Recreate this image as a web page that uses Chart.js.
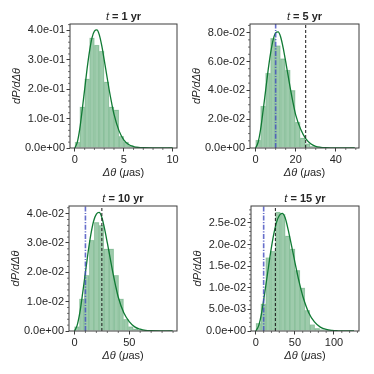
<!DOCTYPE html>
<html>
<head>
<meta charset="utf-8">
<script src="https://cdn.jsdelivr.net/npm/chart.js@4.4.0/dist/chart.umd.min.js"></script>
<style>
  html, body { margin: 0; padding: 0; background: #fff; }
  #wrap { position: relative; width: 374px; height: 374px; overflow: hidden; }
  canvas { position: absolute; }
</style>
</head>
<body>
<div id="wrap">
  <canvas id="p1" width="187" height="187" style="left:0;top:0"></canvas>
  <canvas id="p2" width="187" height="187" style="left:187px;top:0"></canvas>
  <canvas id="p3" width="187" height="187" style="left:0;top:187px"></canvas>
  <canvas id="p4" width="187" height="187" style="left:187px;top:187px"></canvas>
</div>
<script>
// --- data ---
const years = [1, 5, 10, 15];

// histogram bins start at 0, 20 bins each
const binWidth1 = 0.5;
const binWidth2 = 2.475;
const binWidth3 = 4.48;
const binWidth4 = 6.28;

const hist1 = [0.02, 0.14, 0.235, 0.375, 0.35, 0.33, 0.225, 0.14, 0.13, 0.04,
               0.02, 0.008, 0.004, 0.002, 0.001, 0, 0, 0, 0, 0.0005];
const hist2 = [0.0055, 0.029, 0.052, 0.076, 0.071, 0.062, 0.054, 0.040, 0.018, 0.007,
               0.003, 0.0012, 0.0005, 0.0002, 0.0001, 0, 0, 0, 0, 0.0001];
const hist3 = [0.0015, 0.011, 0.019, 0.031, 0.037, 0.036, 0.028, 0.028, 0.019, 0.011,
               0.004, 0.0015, 0.0007, 0.0003, 0.0002, 0.0001, 0, 0, 0, 0.0001];
const hist4 = [0.0018, 0.0063, 0.017, 0.0185, 0.0275, 0.027, 0.022, 0.019, 0.014, 0.010,
               0.0048, 0.0015, 0.0006, 0.0003, 0.0001, 0.0001, 0, 0, 0, 0.0001];

// fitted density curves
const curveX1 = [0, 0.25, 0.5, 0.75, 1, 1.25, 1.5, 1.75, 2, 2.25, 2.5, 2.75, 3, 3.25, 3.5, 3.75, 4, 4.5, 5, 5.5, 6, 6.5, 7, 8, 9, 10];
const curveY1 = [0, 0.02, 0.065, 0.13, 0.2, 0.27, 0.33, 0.375, 0.398, 0.402, 0.385, 0.348, 0.3, 0.25, 0.2, 0.155, 0.115, 0.06, 0.028, 0.012, 0.005, 0.002, 0.0008, 0.0001, 0, 0];
const curveX2 = [0, 1.25, 2.5, 3.75, 5, 6.25, 7.5, 8.75, 10, 11.25, 12.5, 13.75, 15, 16.25, 17.5, 18.75, 20, 22.5, 25, 27.5, 30, 32.5, 35, 40, 45, 49.5];
const curveY2 = [0, 0.004, 0.013, 0.026, 0.04, 0.054, 0.066, 0.075, 0.0798, 0.0805, 0.077, 0.0695, 0.06, 0.05, 0.04, 0.031, 0.023, 0.013, 0.0065, 0.003, 0.0012, 0.0005, 0.0002, 0.00002, 0, 0];
const curveX3 = [0, 2.5, 5, 7.5, 10, 12.5, 15, 17.5, 20, 22.5, 25, 27.5, 30, 32.5, 35, 37.5, 40, 45, 50, 55, 60, 65, 70, 80, 89.6];
const curveY3 = [0, 0.002, 0.0065, 0.013, 0.02, 0.027, 0.033, 0.0375, 0.0398, 0.0404, 0.0387, 0.0348, 0.03, 0.025, 0.02, 0.0155, 0.0115, 0.0062, 0.0032, 0.0014, 0.0006, 0.0002, 0.00008, 0.00001, 0];
const curveX4 = [0, 3.75, 7.5, 11.25, 15, 18.75, 22.5, 26.25, 30, 33.75, 37.5, 41.25, 45, 48.75, 52.5, 56.25, 60, 67.5, 75, 82.5, 90, 97.5, 105, 115, 125.6];
const curveY4 = [0, 0.0013, 0.0043, 0.0087, 0.0133, 0.018, 0.022, 0.025, 0.0267, 0.0272, 0.0262, 0.0235, 0.0203, 0.017, 0.0137, 0.0107, 0.0081, 0.0043, 0.0021, 0.0009, 0.00035, 0.00013, 0.00005, 0.00001, 0];

// reference lines (muas)
const blueLineX = 10;
const blackLineX = 25;

// axis ticks
const xTicks1 = [0, 5, 10];
const xTicks2 = [0, 20, 40];
const xTicks3 = [0, 50];
const xTicks4 = [0, 50, 100];
const yTicks1 = [0, 0.1, 0.2, 0.3, 0.4];
const yTicks2 = [0, 0.02, 0.04, 0.06, 0.08];
const yTicks3 = [0, 0.01, 0.02, 0.03, 0.04];
const yTicks4 = [0, 0.005, 0.01, 0.015, 0.02, 0.025];

// --- style ---
const FONT = "'Liberation Sans', Arial, sans-serif";
const TEXT_COLOR = '#262626';
const AXIS_COLOR = '#3c3c3c';
const HIST_FILL = 'rgba(40,140,70,0.45)';
const HIST_EDGE = 'rgba(40,140,70,0.25)';
const CURVE_COLOR = 'rgb(16,122,52)';
const BLUE_COLOR = 'rgba(65,75,190,0.8)';
const BLACK_COLOR = '#1a1a1a';

function fmtSci(v) {
  const parts = Number(v).toExponential(1).split('e');
  let exp = parseInt(parts[1], 10);
  const sign = exp < 0 ? '-' : '+';
  exp = Math.abs(exp);
  return parts[0] + 'e' + sign + (exp < 10 ? '0' : '') + exp;
}

function drawRuns(ctx, runs, cx, cy) {
  let total = 0;
  runs.forEach(r => { ctx.font = r.font; r.w = ctx.measureText(r.text).width; total += r.w; });
  let x = cx - total / 2;
  runs.forEach(r => { ctx.font = r.font; ctx.fillText(r.text, x, cy); x += r.w; });
}

function minorTicks(ctx, scale, step, divs, horizontal, area) {
  const minor = step / divs;
  const k0 = Math.ceil(scale.min / minor - 1e-9);
  const k1 = Math.floor(scale.max / minor + 1e-9);
  for (let k = k0; k <= k1; k++) {
    if (k % divs === 0) continue;
    const px = scale.getPixelForValue(k * minor);
    ctx.beginPath();
    if (horizontal) {
      ctx.moveTo(px, area.bottom);
      ctx.lineTo(px, area.bottom + 2);
    } else {
      ctx.moveTo(area.left, px);
      ctx.lineTo(area.left - 2, px);
    }
    ctx.stroke();
  }
}

function makeDecor(p) {
  return {
    id: 'decor',
    afterDraw(chart) {
      const { ctx, chartArea: a, scales } = chart;
      ctx.save();
      // minor ticks
      ctx.strokeStyle = AXIS_COLOR;
      ctx.lineWidth = 0.7;
      minorTicks(ctx, scales.x, p.xTicks[1] - p.xTicks[0], p.xDivs, true, a);
      minorTicks(ctx, scales.y, p.yTicks[1] - p.yTicks[0], p.yDivs, false, a);
      // frame
      ctx.lineWidth = 1;
      ctx.strokeRect(a.left, a.top, a.right - a.left, a.bottom - a.top);
      // texts
      ctx.fillStyle = TEXT_COLOR;
      ctx.textBaseline = 'middle';
      ctx.textAlign = 'left';
      const cx = (a.left + a.right) / 2;
      drawRuns(ctx, [
        { text: 't', font: 'italic 11px ' + FONT },
        { text: ' = ' + p.year + ' yr', font: 'bold 11px ' + FONT }
      ], cx, a.top - 7.5);
      drawRuns(ctx, [
        { text: '\u0394\u03b8', font: 'italic 11px ' + FONT },
        { text: ' (', font: '11px ' + FONT },
        { text: '\u03bc', font: 'italic 11px ' + FONT },
        { text: 'as)', font: '11px ' + FONT }
      ], cx, a.bottom + 24.5);
      ctx.save();
      ctx.translate(a.left - 53, (a.top + a.bottom) / 2);
      ctx.rotate(-Math.PI / 2);
      drawRuns(ctx, [{ text: 'dP/d\u0394\u03b8', font: 'italic 11px ' + FONT }], 0, 0);
      ctx.restore();
      ctx.restore();
    }
  };
}

function buildPanel(id, p) {
  const ctx = document.getElementById(id).getContext('2d');
  const bars = p.hist.map((h, i) => ({ x: (i + 0.5) * p.binWidth, y: h }));
  const curve = p.curveX.map((x, i) => ({ x: x, y: p.curveY[i] }));
  const datasets = [
    { type: 'bar', data: bars, backgroundColor: HIST_FILL, borderColor: HIST_EDGE,
      borderWidth: 0.5, barPercentage: 1, categoryPercentage: 1, order: 3 },
    { type: 'line', data: curve, borderColor: CURVE_COLOR, borderWidth: 1.3,
      pointRadius: 0, cubicInterpolationMode: 'monotone', fill: false, order: 2 }
  ];
  if (p.refs) {
    datasets.push({ type: 'line', data: [{ x: blackLineX, y: 0 }, { x: blackLineX, y: p.yMax }],
      borderColor: BLACK_COLOR, borderWidth: 1, borderDash: [3, 2], pointRadius: 0, order: 1 });
    datasets.push({ type: 'line', data: [{ x: blueLineX, y: 0 }, { x: blueLineX, y: p.yMax }],
      borderColor: BLUE_COLOR, borderWidth: 1.6, borderDash: [5, 1.5, 1.2, 1.5], pointRadius: 0, order: 0 });
  }
  const tickFont = { family: FONT, size: 11 };
  return new Chart(ctx, {
    type: 'bar',
    data: { datasets: datasets },
    options: {
      responsive: false,
      animation: false,
      events: [],
      layout: { padding: { left: 0, top: p.top, right: 187 - p.right, bottom: 187 - p.bottom - 20 } },
      plugins: { legend: { display: false }, tooltip: { enabled: false }, title: { display: false } },
      scales: {
        x: {
          type: 'linear', min: p.xMin, max: p.xMax, offset: false,
          grid: { drawOnChartArea: false, drawTicks: true, tickLength: 3.5, color: AXIS_COLOR, offset: false },
          border: { display: false },
          ticks: { font: tickFont, color: TEXT_COLOR, padding: 2, maxRotation: 0, autoSkip: false,
                   callback: v => String(v) },
          afterBuildTicks: s => { s.ticks = p.xTicks.map(v => ({ value: v })); },
          afterFit: s => { s.height = 20; }
        },
        y: {
          type: 'linear', min: 0, max: p.yMax,
          grid: { drawOnChartArea: false, drawTicks: true, tickLength: 3.5, color: AXIS_COLOR },
          border: { display: false },
          ticks: { font: tickFont, color: TEXT_COLOR, padding: 1.5, autoSkip: false, callback: v => fmtSci(v) },
          afterBuildTicks: s => { s.ticks = p.yTicks.map(v => ({ value: v })); },
          afterFit: s => { s.width = p.left; }
        }
      }
    },
    plugins: [makeDecor(p)]
  });
}

buildPanel('p1', { year: years[0], hist: hist1, binWidth: binWidth1, curveX: curveX1, curveY: curveY1,
  xTicks: xTicks1, yTicks: yTicks1, xDivs: 5, yDivs: 5, xMin: -0.5, xMax: 10.45, yMax: 0.422, refs: false,
  left: 70, top: 24, right: 177, bottom: 148 });
buildPanel('p2', { year: years[1], hist: hist2, binWidth: binWidth2, curveX: curveX2, curveY: curveY2,
  xTicks: xTicks2, yTicks: yTicks2, xDivs: 4, yDivs: 4, xMin: -2.8, xMax: 51.6, yMax: 0.086, refs: true,
  left: 63, top: 24, right: 172, bottom: 148 });
buildPanel('p3', { year: years[2], hist: hist3, binWidth: binWidth3, curveX: curveX3, curveY: curveY3,
  xTicks: xTicks3, yTicks: yTicks3, xDivs: 5, yDivs: 5, xMin: -5, xMax: 93.6, yMax: 0.0426, refs: true,
  left: 69, top: 19, right: 177, bottom: 144 });
buildPanel('p4', { year: years[3], hist: hist4, binWidth: binWidth4, curveX: curveX4, curveY: curveY4,
  xTicks: xTicks4, yTicks: yTicks4, xDivs: 5, yDivs: 5, xMin: -6.2, xMax: 132, yMax: 0.0289, refs: true,
  left: 64, top: 19, right: 172, bottom: 144 });
</script>
</body>
</html>
